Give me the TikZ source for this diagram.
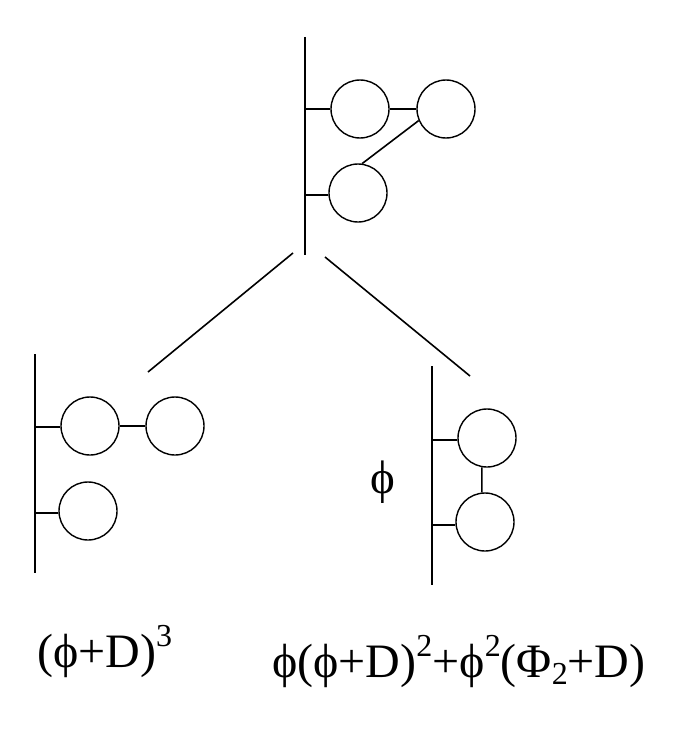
\documentclass[tikz,border=0pt]{standalone}
\usepackage{fontspec}
\setmainfont{Liberation Serif}
\newcommand{\mysup}[1]{\raisebox{0.42em}{\fontsize{32}{32}\selectfont #1}}
\newcommand{\mysub}[1]{\raisebox{-0.15em}{\fontsize{32}{32}\selectfont #1}}
\begin{document}
\begin{tikzpicture}[x=1pt,y=-1pt,
  ring/.style={circle,draw,line width=1.4pt,minimum size=58pt,inner sep=0pt},
  bar/.style={line width=1.9pt},
  link/.style={line width=1.6pt},
  lbl/.style={font=\fontsize{48}{52}\selectfont,inner sep=0pt}]
\useasboundingbox (0,0) rectangle (683,741);
% top group
\coordinate (at) at (305,37);
\coordinate (ab) at (305,255);
\draw[bar] (at) -- (ab);
\node[ring] (a1) at (360,109) {};
\node[ring] (a2) at (446,109) {};
\node[ring] (a3) at (358,193) {};
\coordinate (a1t) at (305,109);
\coordinate (a3t) at (305,195);
\draw[link] (a1t) -- (a1.west |- a1t);
\draw[link] (a3t) -- (a3.west |- a3t);
\draw[link] (a1) -- (a2);
\draw[link] (a2.203) -- (a3.82);
% branches
\coordinate (l1) at (293,253);
\coordinate (l2) at (148,372);
\coordinate (r1) at (325,257);
\coordinate (r2) at (470,376);
\draw[link] (l1) -- (l2);
\draw[link] (r1) -- (r2);
% left group
\coordinate (bt) at (35,354);
\coordinate (bb) at (35,573);
\draw[bar] (bt) -- (bb);
\node[ring] (b1) at (90,426) {};
\node[ring] (b2) at (175,426) {};
\node[ring] (b3) at (88,511) {};
\coordinate (b1t) at (35,427);
\coordinate (b3t) at (35,513);
\draw[link] (b1t) -- (b1.west |- b1t);
\draw[link] (b3t) -- (b3.west |- b3t);
\draw[link] (b1) -- (b2);
% right group
\coordinate (ct) at (432,366);
\coordinate (cb) at (432,585);
\draw[bar] (ct) -- (cb);
\node[ring] (c1) at (487,438) {};
\node[ring] (c2) at (485,522) {};
\coordinate (c1t) at (432,440);
\coordinate (c2t) at (432,525);
\draw[link] (c1t) -- (c1.west |- c1t);
\draw[link] (c2t) -- (c2.west |- c2t);
\draw[link] (c1.260) -- (c2.96);
% labels
\node[lbl,font=\fontsize{47}{50}\selectfont] (phi) at (383,482) {ϕ};
\node[lbl,anchor=base west] (t1) at (37,667) {(ϕ+D)\mysup{3}};
\node[lbl,anchor=base west] (t2) at (272,677) {ϕ(ϕ+D)\mysup{2}+ϕ\mysup{2}(Φ\mysub{2}+D)};
\end{tikzpicture}
\end{document}
